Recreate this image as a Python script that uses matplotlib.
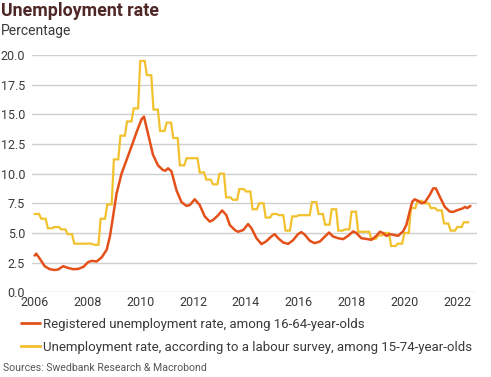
import numpy as np
import matplotlib
matplotlib.use("Agg")
import matplotlib.pyplot as plt

# Registered unemployment rate (16-64) (decimal years)
reg_x = [2006.00, 2006.06, 2006.19, 2006.38, 2006.57, 2006.76, 2006.89, 2007.08, 2007.27, 2007.46,
         2007.65, 2007.85, 2008.03, 2008.16, 2008.35, 2008.54, 2008.73, 2008.85, 2008.97, 2009.10,
         2009.29, 2009.48, 2009.67, 2009.86, 2010.05, 2010.14, 2010.29, 2010.48, 2010.67, 2010.86,
         2010.95, 2011.05, 2011.18, 2011.37, 2011.56, 2011.75, 2011.88, 2012.06, 2012.25, 2012.44,
         2012.63, 2012.76, 2012.95, 2013.10, 2013.26, 2013.39, 2013.58, 2013.70, 2013.90, 2014.08,
         2014.21, 2014.40, 2014.59, 2014.77, 2014.96, 2015.09, 2015.22, 2015.41, 2015.60, 2015.79,
         2015.97, 2016.10, 2016.23, 2016.42, 2016.60, 2016.80, 2016.99, 2017.15, 2017.30, 2017.49,
         2017.68, 2017.87, 2018.06, 2018.18, 2018.37, 2018.56, 2018.75, 2018.94, 2019.07, 2019.19,
         2019.32, 2019.45, 2019.57, 2019.76, 2019.95, 2020.08, 2020.20, 2020.30, 2020.39, 2020.52,
         2020.65, 2020.78, 2020.96, 2021.09, 2021.19, 2021.34, 2021.53, 2021.72, 2021.85, 2022.03,
         2022.22, 2022.29, 2022.38, 2022.50]
reg_y = [3.10, 3.25, 2.85, 2.20, 1.95, 1.88, 1.92, 2.20, 2.05, 1.95,
         1.97, 2.15, 2.55, 2.65, 2.60, 2.95, 3.60, 4.70, 6.40, 8.30,
         10.0, 11.15, 12.3, 13.5, 14.6, 14.8, 13.4, 11.6, 10.7, 10.3,
         10.25, 10.45, 10.2, 8.6, 7.6, 7.28, 7.36, 7.84, 7.36, 6.4,
         5.96, 6.1, 6.5, 6.9, 6.5, 5.67, 5.25, 5.1, 5.25, 5.75,
         5.4, 4.56, 4.06, 4.3, 4.7, 4.9, 4.56, 4.2, 4.08, 4.4,
         4.9, 5.07, 4.85, 4.34, 4.14, 4.28, 4.7, 5.04, 4.7, 4.56,
         4.48, 4.76, 5.13, 5.0, 4.56, 4.5, 4.42, 4.76, 5.1, 5.0,
         4.75, 4.9, 4.85, 4.76, 5.13, 5.7, 6.8, 7.64, 7.84, 7.7,
         7.5, 7.6, 8.2, 8.76, 8.76, 8.06, 7.2, 6.8, 6.78, 6.94,
         7.08, 7.2, 7.1, 7.27]

# Labour survey unemployment rate (15-74), quarterly 2006Q1..2022Q2
lfs_start = 2006
lfs_q = [6.6, 6.2, 5.4, 5.5,
         5.3, 4.9, 4.1, 4.1,
         4.1, 4.0, 6.2, 7.4,
         11.2, 13.2, 14.4, 15.5,
         19.5, 18.3, 15.4, 13.6,
         14.3, 13.0, 10.7, 11.3,
         11.3, 10.1, 9.5, 9.1,
         10.0, 8.0, 7.8, 8.7,
         8.5, 7.0, 7.5, 6.3,
         6.6, 6.5, 5.2, 6.4,
         6.5, 6.5, 7.6, 6.6,
         5.7, 7.0, 5.2, 5.3,
         6.8, 5.1, 5.1, 4.5,
         4.8, 5.0, 3.9, 4.1,
         5.0, 7.1, 7.7, 7.5,
         7.1, 6.9, 5.8, 5.2,
         5.5, 5.9]

yticks = [0.0, 2.5, 5.0, 7.5, 10.0, 12.5, 15.0, 17.5, 20.0]
xticks = [2006, 2008, 2010, 2012, 2014, 2016, 2018, 2020, 2022]

label_reg = "Registered unemployment rate, among 16-64-year-olds"
label_lfs = "Unemployment rate, according to a labour survey, among 15-74-year-olds"

RED = "#E4501A"
YEL = "#F2C12E"
TXT = "#3a3a3a"

plt.rcParams['font.family'] = ['Roboto', 'DejaVu Sans']

fig = plt.figure(figsize=(4.91, 3.77), dpi=100)
W, H = 491, 377
left, right, top, bottom = 32, 477, 55, 292.3
ax = fig.add_axes([left / W, 1 - bottom / H, (right - left) / W, (bottom - top) / H])

# monthly representation of the quarterly survey series
lfs_monthly = np.repeat(lfs_q, 3)
lfs_x = lfs_start + np.arange(len(lfs_monthly)) / 12.0

l2, = ax.plot(lfs_x, lfs_monthly, color=YEL, lw=1.6, solid_joinstyle='miter')
l1, = ax.plot(reg_x, reg_y, color=RED, lw=1.8, solid_capstyle='round')

ax.set_xlim(2005.9, 2022.75)
ax.set_ylim(0, 20)
ax.set_yticks(yticks)
ax.set_yticklabels([f"{v:.1f}" for v in yticks])
ax.set_xticks(xticks)
ax.set_xticklabels([str(v) for v in xticks])
ax.grid(axis='y', color='#cfcfcf', lw=1.0)
ax.set_axisbelow(True)
for s in ax.spines.values():
    s.set_visible(False)
ax.tick_params(axis='both', length=0, labelsize=9, colors=TXT)
ax.tick_params(axis='y', pad=5)
ax.tick_params(axis='x', pad=2.5)

fig.text(1 / W, 1 - 2 / H, "Unemployment rate", fontsize=12.8, fontweight='bold',
         color='#4f2727', va='top', ha='left')
fig.text(1 / W, 1 - 24 / H, "Percentage", fontsize=10, color=TXT, va='top', ha='left')

leg = fig.legend([l1, l2], [label_reg, label_lfs], loc='upper left',
                 bbox_to_anchor=(21 / W, 1 - 318 / H), frameon=False,
                 fontsize=9.5, handlelength=1.45, handletextpad=0.25,
                 labelspacing=0.75, borderaxespad=0, borderpad=0, labelcolor=TXT)
for h in leg.legend_handles:
    h.set_linewidth(2.0)

fig.text(3 / W, 1 - 368 / H, "Sources: Swedbank Research & Macrobond", fontsize=7.6,
         color='#555555', va='center', ha='left')

fig.savefig("out.png", dpi=100)
